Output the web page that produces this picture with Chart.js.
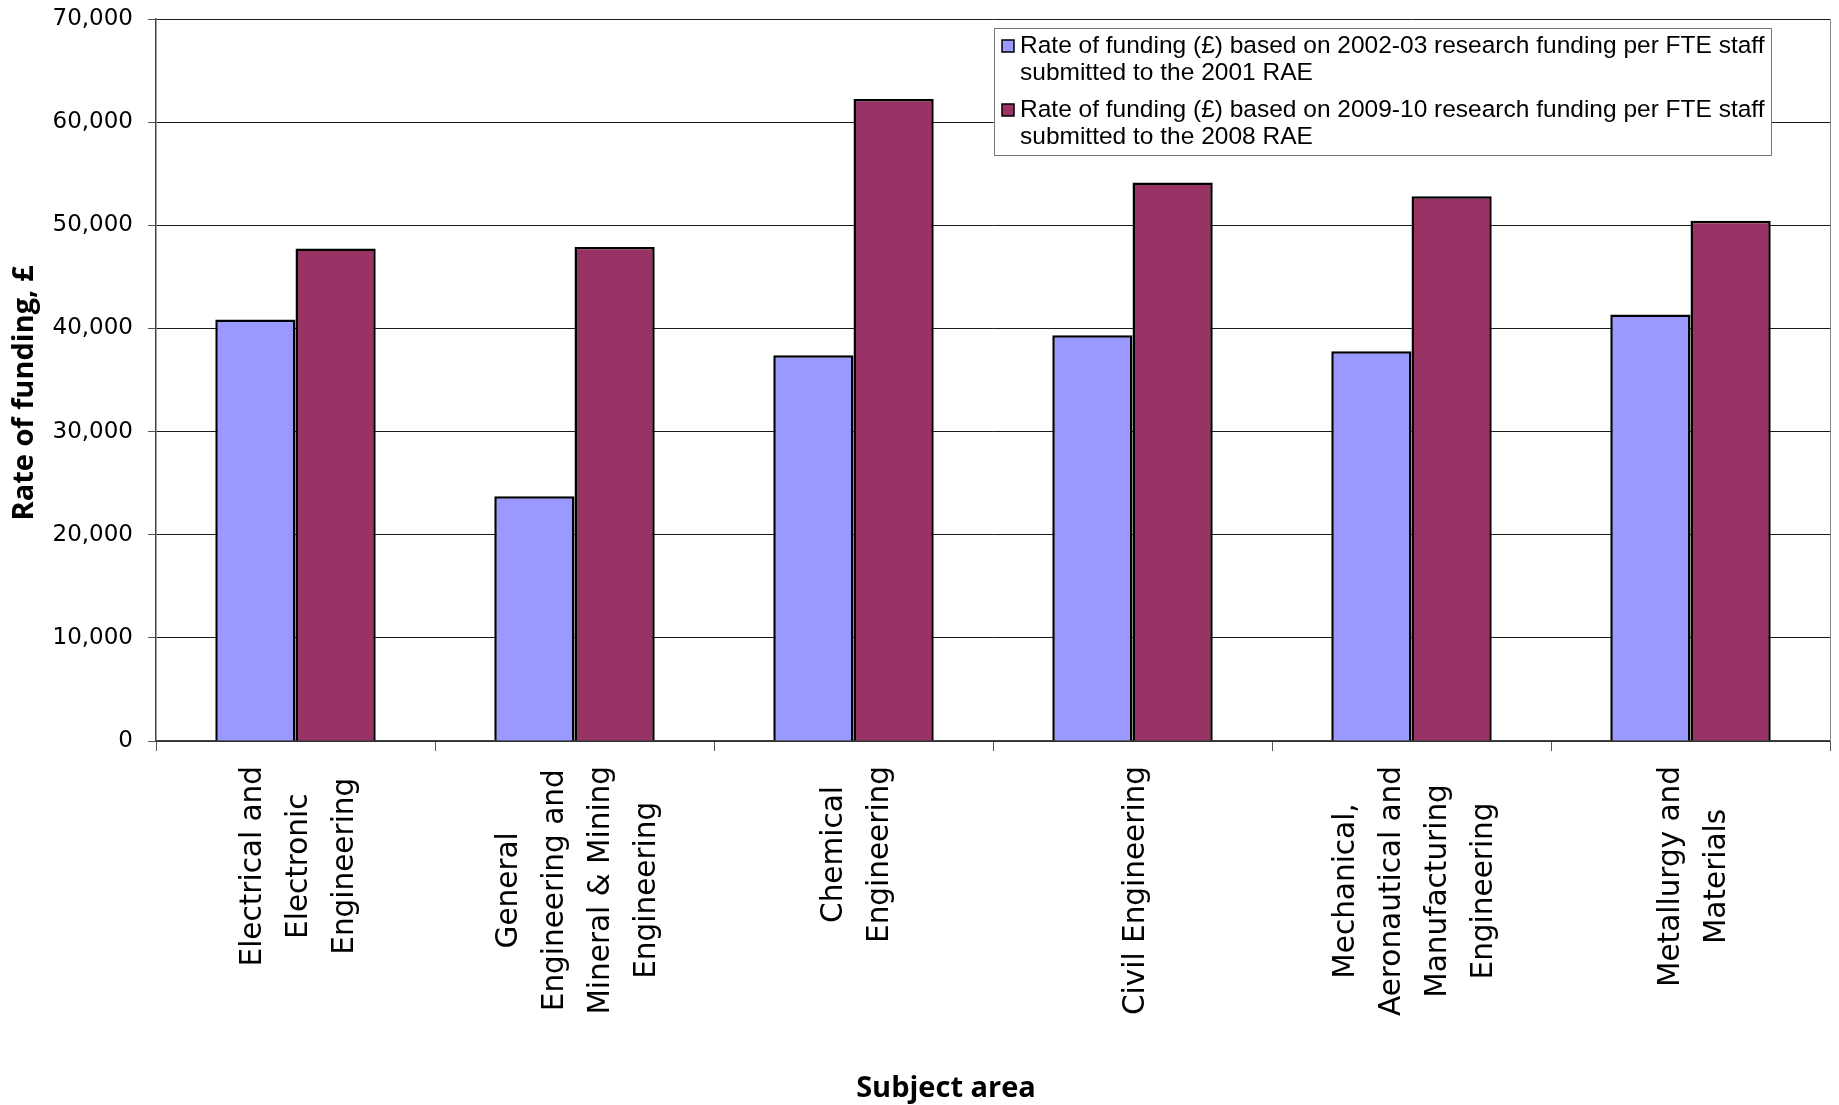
<!DOCTYPE html>
<html>
<head>
<meta charset="utf-8">
<title>Rate of funding by subject area</title>
<script src="https://cdn.jsdelivr.net/npm/chart.js@4.4.1/dist/chart.umd.min.js"></script>
<style>
	body { margin: 0; background: #fff; }
	canvas { display: block; }
</style>
</head>
<body>
<canvas id="funding" width="1839" height="1105"></canvas>
<script>
//subject areas (one entry per line of the axis label)
const subjects = [
	["Electrical and", "Electronic", "Engineering"],
	["General", "Engineering and", "Mineral & Mining", "Engineering"],
	["Chemical", "Engineering"],
	["Civil Engineering"],
	["Mechanical,", "Aeronautical and", "Manufacturing", "Engineering"],
	["Metallurgy and", "Materials"],
];

//rate of funding, £
const funding2001 = [40860, 23740, 37400, 39340, 37790, 41350];
const funding2008 = [47740, 47900, 62240, 54140, 52810, 50450];

const seriesLabels = [
	["Rate of funding (£) based on 2002-03 research funding per FTE staff", "submitted to the 2001 RAE"],
	["Rate of funding (£) based on 2009-10 research funding per FTE staff", "submitted to the 2008 RAE"],
];
const seriesColors = ["#9999ff", "#993366"];

const yMax = 70000;
const yStep = 10000;

// labels, legend and frame that chart.js can't lay out like excel did
const chartExtras = {
	id: "chartExtras",
	afterDraw(chart) {
		const { ctx, chartArea, scales } = chart;
		ctx.save();

		// right edge of the plot
		ctx.strokeStyle = "#888";
		ctx.lineWidth = 1;
		ctx.beginPath();
		ctx.moveTo(chartArea.right + 0.5, chartArea.top);
		ctx.lineTo(chartArea.right + 0.5, chartArea.bottom);
		ctx.stroke();

		// category labels, rotated, lines centred
		ctx.fillStyle = "#000";
		ctx.font = "29.5px 'DejaVu Sans'";
		ctx.textAlign = "center";
		ctx.textBaseline = "middle";
		const lineGap = 46;
		const top = chartArea.bottom + 25;
		chart.data.labels.forEach((lines, i) => {
			const cx = scales.x.getPixelForValue(i) + 4;
			const maxLen = Math.max(...lines.map((l) => ctx.measureText(l).width));
			lines.forEach((line, j) => {
				ctx.save();
				ctx.translate(cx + (j - (lines.length - 1) / 2) * lineGap, top + maxLen / 2);
				ctx.rotate(-Math.PI / 2);
				ctx.fillText(line, 0, 0);
				ctx.restore();
			});
		});

		// axis titles
		ctx.font = "bold 29px 'Open Sans'";
		ctx.fillText("Subject area", 946, 1089);
		ctx.save();
		ctx.translate(25, 393);
		ctx.rotate(-Math.PI / 2);
		ctx.fillText("Rate of funding, £", 0, 0);
		ctx.restore();

		// legend
		const box = { x: 994.5, y: 28.5, w: 777, h: 127 };
		ctx.fillStyle = "#fff";
		ctx.fillRect(box.x, box.y, box.w, box.h);
		ctx.strokeStyle = "#777";
		ctx.lineWidth = 1;
		ctx.strokeRect(box.x, box.y, box.w, box.h);
		ctx.font = "24.5px 'Liberation Sans', Arial";
		ctx.textAlign = "left";
		chart.data.datasets.forEach((ds, i) => {
			const y0 = 46 + i * 64;
			ctx.fillStyle = ds.backgroundColor;
			ctx.fillRect(1002, y0 - 6, 12, 12);
			ctx.strokeStyle = "#000";
			ctx.lineWidth = 1.5;
			ctx.strokeRect(1002, y0 - 6, 12, 12);
			ctx.fillStyle = "#000";
			seriesLabels[i].forEach((line, j) => {
				ctx.fillText(line, 1020, y0 + j * 27);
			});
		});

		ctx.restore();
	},
};

let funding = document.getElementById("funding").getContext("2d");
let fundingChart = new Chart(funding, {
	type: "bar",
	data: {
		labels: subjects,
		datasets: [
			{
				label: seriesLabels[0].join(" "),
				data: funding2001,
				backgroundColor: seriesColors[0],
				borderColor: "#000",
				borderWidth: 2.5,
			},
			{
				label: seriesLabels[1].join(" "),
				data: funding2008,
				backgroundColor: seriesColors[1],
				borderColor: "#000",
				borderWidth: 2.5,
			},
		],
	},
	options: {
		responsive: false,
		animation: false,
		barPercentage: 1,
		categoryPercentage: 0.575,
		layout: {
			padding: { top: 19, right: 9, bottom: 354, left: 0 },
		},
		plugins: {
			legend: { display: false },
			tooltip: { enabled: false },
		},
		scales: {
			x: {
				grid: {
					offset: true,
					drawOnChartArea: false,
					tickLength: 10,
					color: "#555",
				},
				border: { color: "#444", width: 1.5 },
				ticks: { display: false },
			},
			y: {
				min: 0,
				max: yMax,
				afterFit(scale) {
					scale.width = 156;
					scale.paddingTop = 0;
					scale.paddingBottom = 0;
				},
				ticks: {
					stepSize: yStep,
					padding: 15,
					color: "#000",
					font: { family: "'DejaVu Sans'", size: 23 },
					callback: (v) => v.toLocaleString("en-US"),
				},
				grid: {
					color: "#1a1a1a",
					tickColor: "#555",
					tickLength: 8,
				},
				border: { color: "#444", width: 1.5 },
			},
		},
	},
	plugins: [chartExtras],
});
</script>
</body>
</html>
